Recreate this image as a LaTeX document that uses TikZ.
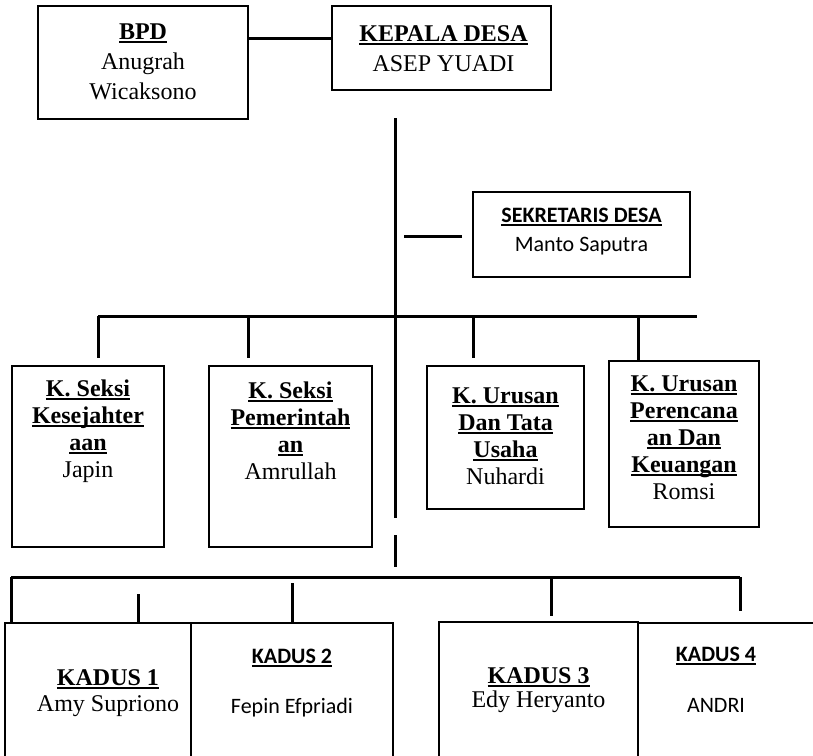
\documentclass[tikz,border=0pt]{standalone}
\usepackage{fontspec}
\setmainfont{Liberation Serif}
\newfontfamily\calibri{Carlito}
\usetikzlibrary{calc}
\newcommand{\garisbawah}[1]{\setbox0\hbox{#1}\rlap{\rule[-2pt]{\wd0}{0.9pt}}\box0}
\begin{document}
\begin{tikzpicture}[x=0.5pt, y=-0.5pt,
	kotak/.style={draw, line width=1pt, inner sep=0pt},
	kotaktipis/.style={draw, line width=0.75pt, inner sep=0pt},
	garis/.style={line width=1.5pt},
	teks/.style={anchor=base, align=center, inner sep=0pt, font=\fontsize{12}{13.5}\selectfont}]
	\useasboundingbox (0,0) rectangle (813,755);
	\clip (0,0) rectangle (813,755);
	
	% kotak-kotak
	\node[kotak, minimum width=105pt, minimum height=56.5pt] (bpd) at (143,62.5) {};
	\node[kotak, minimum width=109.5pt, minimum height=42pt] (kades) at (441.5,48) {};
	\node[kotak, minimum width=108.5pt, minimum height=42.5pt] (sekdes) at (581.5,234.5) {};
	\node[kotak, minimum width=76pt, minimum height=90.5pt] (seksi1) at (88,456.5) {};
	\node[kotak, minimum width=81.5pt, minimum height=90.5pt] (seksi2) at (290.5,456.5) {};
	\node[kotak, minimum width=78.5pt, minimum height=71.5pt] (urusan1) at (505.5,437.5) {};
	\node[kotak, minimum width=75pt, minimum height=83pt] (urusan2) at (684,444) {};
	\node[kotaktipis, minimum width=93pt, minimum height=88.5pt] (kadus1) at (98,711.5) {};
	\node[kotaktipis, minimum width=101pt, minimum height=88.5pt] (kadus2) at (292,711.5) {};
	\node[kotaktipis, minimum width=99.5pt, minimum height=89pt] (kadus3) at (538.5,711) {};
	\node[kotaktipis, minimum width=106pt, minimum height=88.5pt] (kadus4) at (744,711.5) {};
	
	% isi (base = garis dasar baris terakhir)
	\node[teks, font=\fontsize{12}{15}\selectfont] (bpdT) at ($(bpd.north)+(0,94)$) {\garisbawah{\textbf{BPD}}\\Anugrah\\Wicaksono};
	\node[teks, font=\fontsize{12}{15}\selectfont] (kadesT) at ($(kades.north)+(2,66)$) {\garisbawah{\textbf{KEPALA DESA}}\\ASEP YUADI};
	\node[teks, font=\calibri\fontsize{11}{14.5}\selectfont] (sekdesT) at ($(sekdes.north)+(0,60)$) {\garisbawah{\textbf{SEKRETARIS DESA}}\\Manto Saputra};
	\node[teks] (seksi1T) at ($(seksi1.north)+(0,112)$) {\garisbawah{\textbf{K. Seksi}}\\\garisbawah{\textbf{Kesejahter}}\\\garisbawah{\textbf{aan}}\\Japin};
	\node[teks] (seksi2T) at ($(seksi2.north)+(0,114)$) {\garisbawah{\textbf{K. Seksi}}\\\garisbawah{\textbf{Pemerintah}}\\\garisbawah{\textbf{an}}\\Amrullah};
	\node[teks] (urusan1T) at ($(urusan1.north)+(0,119)$) {\garisbawah{\textbf{K. Urusan}}\\\garisbawah{\textbf{Dan Tata}}\\\garisbawah{\textbf{Usaha}}\\Nuhardi};
	\node[teks] (urusan2T) at ($(urusan2.north)+(0,139)$) {\garisbawah{\textbf{K. Urusan}}\\\garisbawah{\textbf{Perencana}}\\\garisbawah{\textbf{an Dan}}\\\garisbawah{\textbf{Keuangan}}\\Romsi};
	\node[teks, font=\fontsize{12}{13}\selectfont] (kadus1T) at ($(kadus1.north)+(10,89)$) {\garisbawah{\textbf{KADUS 1}}\\Amy Supriono};
	\node[teks, font=\calibri\fontsize{11}{25}\selectfont] (kadus2T) at ($(kadus2.north)+(0,91)$) {\garisbawah{\textbf{KADUS 2}}\\Fepin Efpriadi};
	\node[teks, font=\fontsize{12}{12}\selectfont] (kadus3T) at ($(kadus3.north)+(0,86)$) {\garisbawah{\textbf{KADUS 3}}\\Edy Heryanto};
	\node[teks, font=\calibri\fontsize{11}{25.5}\selectfont] (kadus4T) at ($(kadus4.north)+(-28,90)$) {\garisbawah{\textbf{KADUS 4}}\\ANDRI};
	
	% titik bantu garis
	\coordinate (puncak) at (395,118);
	\coordinate (putus1) at (395,518);
	\coordinate (putus2) at (395,535);
	\coordinate (ujung) at (395,567);
	\coordinate (t1) at (98,316);
	\coordinate (t2) at (248,316);
	\coordinate (t3) at (473,316);
	\coordinate (t4) at (638,316);
	\coordinate (tKanan) at (697,316);
	\coordinate (b1) at (11,577);
	\coordinate (k1) at (138,594);
	\coordinate (k2) at (292,583);
	\coordinate (b4) at (551,577);
	\coordinate (b5) at (740,577);
	
	% garis
	\draw[garis] ($(bpd.north east)+(0,33)$) -- ($(kades.north west)+(0,33)$);
	\draw[garis] (puncak) -- (putus1);
	\draw[garis] (putus2) -- (ujung);
	\draw[garis] ($(sekdes.west)+(-10,1.5)$) -- ($(sekdes.west)+(-68,1.5)$);
	\draw[garis] (t1) -- (tKanan);
	\draw[garis] (t1) -- ([yshift=3.5pt]t1 |- seksi1.north);
	\draw[garis] (t2) -- ([yshift=3.5pt]t2 |- seksi2.north);
	\draw[garis] (t3) -- ([yshift=3.5pt]t3 |- urusan1.north);
	\draw[garis] (t4) -- (t4 |- urusan2.north);
	\draw[garis] (b1) -- (b5);
	\draw[garis] (b1) -- (b1 |- kadus1.north);
	\draw[garis] (k1) -- (k1 |- kadus1.north);
	\draw[garis] (k2) -- (k2 |- kadus2.north);
	\draw[garis] (b4) -- ([yshift=2.5pt]b4 |- kadus3.north);
	\draw[garis] (b5) -- ([yshift=5.5pt]b5 |- kadus4.north);
\end{tikzpicture}
\end{document}
